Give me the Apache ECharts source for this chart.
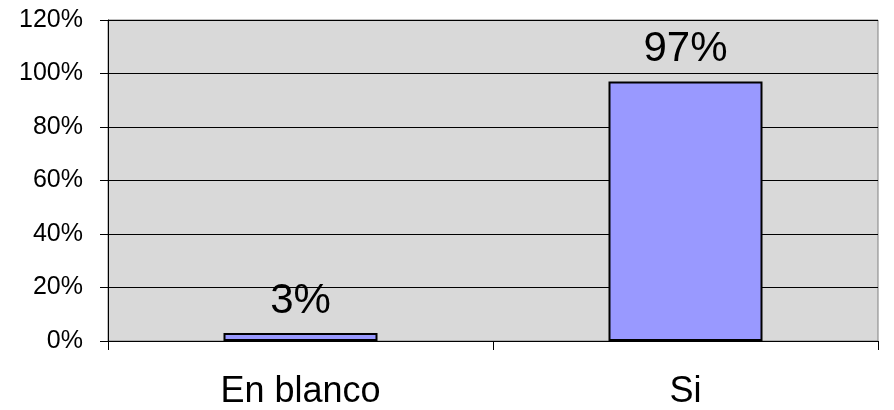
<!DOCTYPE html>
<html>
<head>
<meta charset="utf-8">
<script src="https://cdn.jsdelivr.net/npm/echarts@6/dist/echarts.min.js"></script>
<style>
  html, body { margin: 0; padding: 0; background: #fff; }
  #chart { width: 894px; height: 410px; }
</style>
</head>
<body>
<div id="chart"></div>
<script>
const categories = ['En blanco', 'Si']
const values = [3, 97]
const yTicks = [0, 20, 40, 60, 80, 100, 120]

const chart = echarts.init(document.getElementById('chart'))

chart.setOption({
  animation: false,
  textStyle: { fontFamily: 'Liberation Sans, Arial, sans-serif' },
  grid: {
    left: 108, right: 16, top: 20, bottom: 68,
    show: true,
    backgroundColor: '#d9d9d9',
    borderColor: '#808080',
    borderWidth: 1
  },
  xAxis: {
    type: 'category',
    data: categories,
    axisLine: { lineStyle: { color: '#000', width: 1 } },
    axisTick: { show: true, length: 9, alignWithLabel: false, lineStyle: { color: '#000' } },
    axisLabel: { color: '#000', fontSize: 36, margin: 33 }
  },
  yAxis: {
    type: 'value',
    min: yTicks[0],
    max: yTicks[yTicks.length - 1],
    interval: 20,
    axisLine: { show: true, lineStyle: { color: '#000', width: 1 } },
    axisTick: { show: true, length: 8, lineStyle: { color: '#000' } },
    axisLabel: { color: '#000', fontSize: 25, margin: 25, formatter: v => v + '%' },
    splitLine: { show: true, lineStyle: { color: '#000', width: 1 } }
  },
  series: [{
    type: 'bar',
    data: values,
    barWidth: '40%',
    itemStyle: { color: '#9999ff', borderColor: '#000', borderWidth: 2 },
    label: {
      show: true,
      position: 'top',
      distance: 11,
      color: '#000',
      fontSize: 42,
      formatter: p => p.value + '%'
    }
  }]
})
</script>
</body>
</html>
